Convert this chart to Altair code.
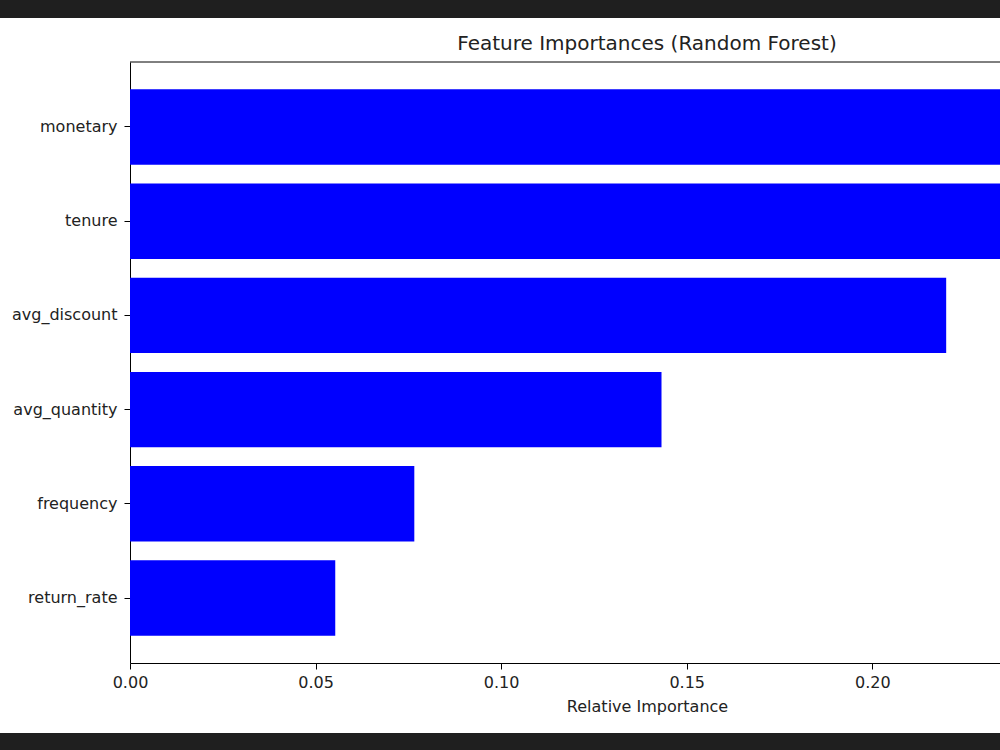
import altair as alt
import pandas as pd

features = ["monetary", "tenure", "avg_discount", "avg_quantity", "frequency", "return_rate"]
importances = [0.265, 0.240, 0.2199, 0.1432, 0.0766, 0.0553]
tick_values = [0.0, 0.05, 0.10, 0.15, 0.20]

df = pd.DataFrame({"feature": features, "importance": importances})
dummy = pd.DataFrame({"a": [0]})

FONT = "DejaVu Sans"
W, H = 870, 601

bars = alt.Chart(df).mark_bar(color="#0000ff", clip=True).encode(
    x=alt.X(
        "importance:Q",
        scale=alt.Scale(domain=[0, 0.2344], nice=False, zero=True),
        axis=alt.Axis(
            values=tick_values, format=".2f", title="Relative Importance",
            titleX=517, titleAlign="center", titlePadding=8, labelFlush=False,
            grid=False, tickSize=6, labelPadding=5, domainColor="#000", tickColor="#000",
            labelFont=FONT, labelFontSize=16, labelColor="#222",
            titleFont=FONT, titleFontSize=16, titleFontWeight="normal", titleColor="#222",
        ),
    ),
    y=alt.Y(
        "feature:N", sort=features,
        scale=alt.Scale(paddingInner=0.2, paddingOuter=0.29),
        axis=alt.Axis(
            title=None, grid=False, tickSize=6, labelPadding=7,
            domainColor="#000", tickColor="#000",
            labelFont=FONT, labelFontSize=16, labelColor="#222",
        ),
    ),
)

top_border = alt.Chart(dummy).mark_rule(color="#000", strokeWidth=1).encode(
    x=alt.value(0), x2=alt.value(W), y=alt.value(0)
)
band_top = alt.Chart(dummy).mark_rect(color="#1f1f1f").encode(
    x=alt.value(-130), x2=alt.value(W), y=alt.value(-62), y2=alt.value(-44)
)
band_bottom = alt.Chart(dummy).mark_rect(color="#1f1f1f").encode(
    x=alt.value(-130), x2=alt.value(W), y=alt.value(671), y2=alt.value(688)
)

chart = alt.layer(bars, top_border, band_top, band_bottom).properties(
    width=W, height=H,
    title=alt.TitleParams(
        "Feature Importances (Random Forest)", anchor="middle", dx=82, dy=62,
        font=FONT, fontSize=20, fontWeight="normal", color="#222", offset=8,
    ),
    autosize=alt.AutoSizeParams(type="none"),
    padding={"left": 130, "top": 62, "right": 0, "bottom": 87},
    background="white",
).configure_view(strokeWidth=0)

chart.save("out.html", embed_options={"renderer": "svg", "actions": False})
